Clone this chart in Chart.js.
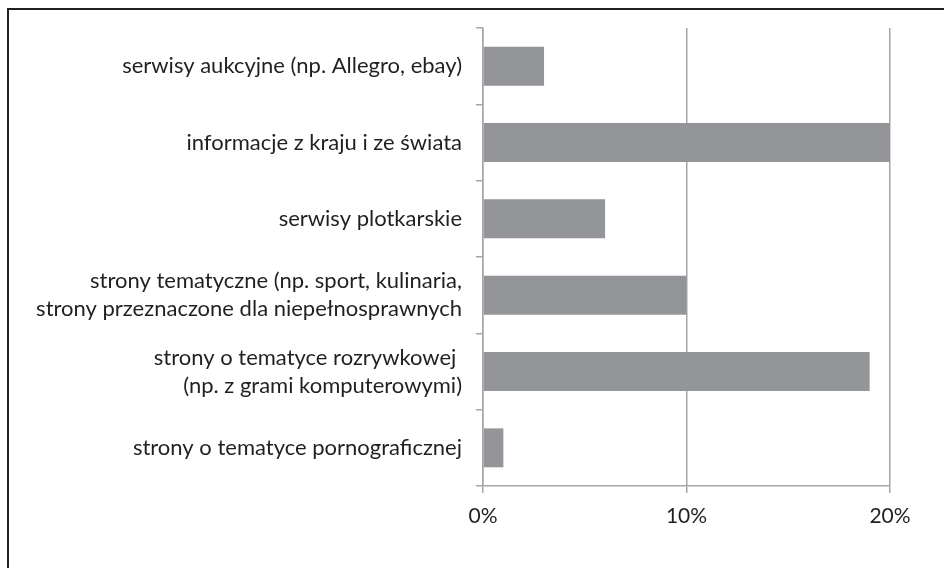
<!DOCTYPE html>
<html>
<head>
<meta charset="utf-8">
<script src="https://cdn.jsdelivr.net/npm/chart.js@4.4.1/dist/chart.umd.min.js"></script>
<style>
  body { margin: 0; background: #fff; }
  #wrap { position: relative; width: 944px; height: 568px; overflow: hidden; }
  #frame { position: absolute; left: 7px; top: 8px; width: 960px; height: 600px;
           border-left: 2px solid #231f20; border-top: 2px solid #231f20; }
  canvas { position: absolute; left: 0; top: 0; }
</style>
</head>
<body>
<div id="wrap">
  <div id="frame"></div>
  <canvas id="chart" width="944" height="568"></canvas>
</div>
<script>
// categories (top to bottom)
const categories = [
    'serwisy aukcyjne (np. Allegro, ebay)',
    'informacje z kraju i ze świata',
    'serwisy plotkarskie',
    ['strony tematyczne (np. sport, kulinaria,', 'strony przeznaczone dla niepełnosprawnych'],
    ['strony o tematyce rozrywkowej ', '(np. z grami komputerowymi)'],
    'strony o tematyce pornograficznej'
];
// share of respondents, %
const values = [3, 20, 6, 10, 19, 1];
const xTicks = [0, 10, 20];

const fontFamily = 'Lato, "Open Sans", sans-serif';
const textColor = '#231f20';
const axisColor = '#a6a6a6';

const ctx = document.getElementById('chart').getContext('2d');
new Chart(ctx, {
    type: 'bar',
    data: {
        labels: categories,
        datasets: [{
            data: values,
            backgroundColor: '#939598',
            borderWidth: 0,
            categoryPercentage: 1,
            barPercentage: 0.51
        }]
    },
    options: {
        indexAxis: 'y',
        responsive: false,
        animation: false,
        layout: { padding: { top: 28, right: 54, left: 0, bottom: 0 } },
        plugins: { legend: { display: false }, tooltip: { enabled: false } },
        scales: {
            x: {
                min: 0,
                max: 20,
                afterBuildTicks: function(scale) {
                    scale.ticks = xTicks.map(v => ({ value: v }));
                },
                afterFit: function(scale) { scale.height = 82; },
                grid: {
                    color: axisColor,
                    lineWidth: 1.5,
                    tickLength: 7
                },
                border: { color: axisColor, width: 1.5 },
                ticks: {
                    color: textColor,
                    padding: 11,
                    font: { family: fontFamily, size: 21 },
                    callback: v => v + '%'
                }
            },
            y: {
                afterFit: function(scale) { scale.width = 483; },
                grid: {
                    drawOnChartArea: false,
                    color: axisColor,
                    lineWidth: 1.5,
                    tickLength: 7
                },
                border: { color: axisColor, width: 1.5 },
                ticks: {
                    color: textColor,
                    padding: 14,
                    font: { family: fontFamily, size: 22, lineHeight: 1.27 }
                }
            }
        }
    }
});
</script>
</body>
</html>
